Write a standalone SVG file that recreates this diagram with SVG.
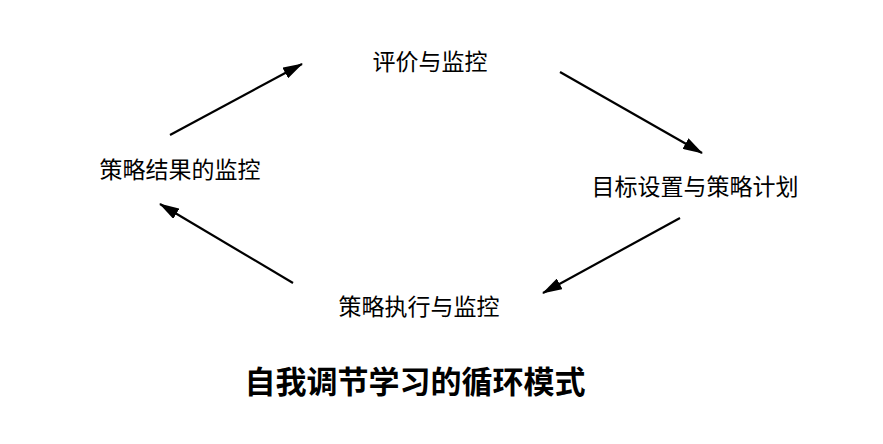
<svg xmlns="http://www.w3.org/2000/svg" width="883" height="444" viewBox="0 0 883 444">
<defs>
<marker id="ah" markerWidth="20" markerHeight="12" refX="19" refY="6" orient="auto" markerUnits="userSpaceOnUse" viewBox="0 0 20 12">
<path d="M0,0 L20,6 L0,12 Z" fill="#000"/>
</marker>
<style>
.l{font-family:"Noto Sans CJK SC",sans-serif;font-size:23px;fill:#000;text-anchor:middle}
.t{font-family:"Noto Sans CJK SC",sans-serif;font-size:31px;font-weight:bold;fill:#000;text-anchor:middle}
.c{stroke:#000;stroke-width:2.2;fill:none;marker-end:url(#ah)}
</style>
</defs>
<rect width="883" height="444" fill="#fff"/>
<g id="n1"><text class="l" x="430" y="70">评价与监控</text></g>
<g id="n2"><text class="l" x="695" y="195">目标设置与策略计划</text></g>
<g id="n3"><text class="l" x="419" y="315">策略执行与监控</text></g>
<g id="n4"><text class="l" x="180" y="178">策略结果的监控</text></g>
<g id="connectors">
<line class="c" x1="170" y1="135" x2="302" y2="64"/>
<line class="c" x1="560" y1="72" x2="702" y2="153"/>
<line class="c" x1="680" y1="218" x2="543" y2="293"/>
<line class="c" x1="293" y1="283" x2="160" y2="204"/>
</g>
<text class="t" x="415" y="393">自我调节学习的循环模式</text>
</svg>
